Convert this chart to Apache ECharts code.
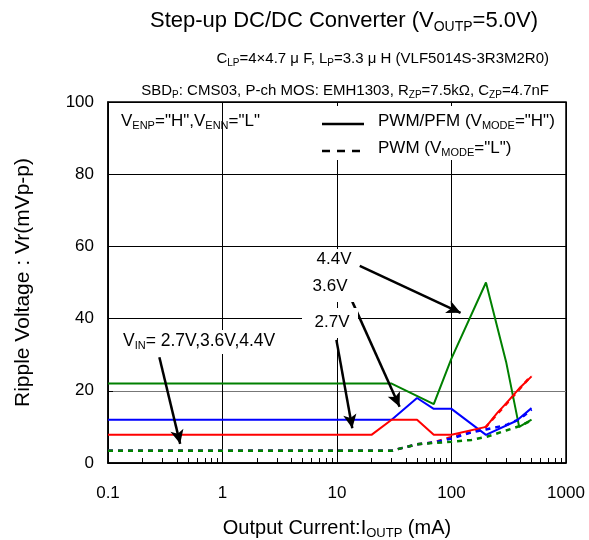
<!DOCTYPE html>
<html><head><meta charset="utf-8">
<script src="https://cdn.jsdelivr.net/npm/echarts@6/dist/echarts.min.js"></script>
<style>html,body{margin:0;padding:0;background:#fff}#c{width:589px;height:540px}</style>
</head><body><div id="c"></div>
<script>
// ---- data ----
const xMajorTicks = [0.1, 1, 10, 100, 1000];
const xMinorTicks = [0.2,0.3,0.4,0.5,0.6,0.7,0.8,0.9,2,3,4,5,6,7,8,9,20,30,40,50,60,70,80,90,200,300,400,500,600,700,800,900];
const yTicks = [0, 20, 40, 60, 80, 100];
// PWM/PFM (VMODE="H") solid
const pfm27 = [[0.1,7.8],[20,7.8],[30,12],[50,12],[70,7.8],[100,7.8],[200,10],[250,13.8],[300,16.5],[400,21],[500,24]];
const pfm36 = [[0.1,12],[30,12],[50,18],[70,15],[100,15],[200,7.8],[370,11.7],[500,15.2]];
const pfm44 = [[0.1,22],[30,22],[70,16.3],[100,29],[200,50],[300,28],[390,10],[500,12]];
// PWM (VMODE="L") dashed
const pwm27 = [[0.1,3.4],[30,3.4],[50,5.2],[70,5.7],[100,7.2],[150,8.6],[200,10],[250,13.5],[300,16.3],[400,20.8],[500,24.3]];
const pwm36 = [[0.1,3.4],[30,3.4],[50,5.2],[70,5.7],[100,6.8],[150,8.5],[200,9.3],[300,10.5],[400,12.3],[500,14.8]];
const pwm44 = [[0.1,3.4],[30,3.4],[50,5.2],[100,5.9],[150,6.4],[200,7.2],[300,9],[400,10.3],[500,11.8]];
// annotation arrows: [from, to] in data coords
const arrows = [
  [[15.8,54.6],[120,41.6]],
  [[13.6,44.7],[35.2,15.6]],
  [[9.88,34.1],[13.6,9.6]],
  [[0.281,29.3],[0.427,5.3]]
];

const FONT = 'Liberation Sans, Arial, sans-serif';
const GREEN = '#008000', BLUE = '#0000ff', RED = '#ff0000';

const chart = echarts.init(document.getElementById('c'), null, {renderer:'canvas'});

function sub(size, subSize){
  return {
    a:{fontSize:size, fontFamily:FONT, color:'#000', lineHeight:size+4},
    s:{fontSize:subSize, fontFamily:FONT, color:'#000', verticalAlign:'bottom', lineHeight:subSize-2}
  };
}

function line(name, data, color, dashed){
  return {name:name, type:'line', data:data, showSymbol:false, symbol:'none', z:dashed?3:4,
    lineStyle:{color:color, width:dashed?2.5:2, type:dashed?[5,5]:'solid'}, itemStyle:{color:color}, silent:true, animation:false};
}

const option = {
  animation:false,
  textStyle:{fontFamily:FONT},
  grid:{left:108, right:23, top:102, bottom:77, outerBoundsMode:'none', containLabel:false,
    show:true, borderColor:'#000', borderWidth:1.5, backgroundColor:'transparent'},
  xAxis:[{
    type:'log', logBase:10, min:0.1, max:1000,
    axisLine:{show:true, lineStyle:{color:'#000', width:1.5}},
    axisTick:{show:false},
    axisLabel:{fontSize:17, color:'#000', margin:22, fontFamily:FONT,
      customValues:xMajorTicks,
      formatter:function(v){ return String(+v.toPrecision(6)); }},
    splitLine:{show:true, lineStyle:{color:'#000', width:1}},
    name:'{a|Output Current:I}{s|OUTP}{a| (mA)}', nameLocation:'middle', nameGap:53,
    nameTextStyle:{rich:sub(20,13)}
  },{
    type:'log', logBase:10, min:0.1, max:1000, position:'bottom',
    axisLine:{show:false},
    axisTick:{show:true, inside:true, length:5, customValues:xMinorTicks, lineStyle:{color:'#000', width:1}},
    axisLabel:{show:false}, splitLine:{show:false}
  }],
  yAxis:{
    type:'value', min:0, max:100, interval:20,
    axisLine:{show:true, lineStyle:{color:'#000', width:1.5}},
    axisTick:{show:true, inside:true, length:5, lineStyle:{color:'#000'}},
    axisLabel:{fontSize:17, color:'#000', margin:14, fontFamily:FONT, customValues:yTicks},
    splitLine:{show:true, lineStyle:{color:['#000','#777','#000','#000','#000','#000'], width:1}},
    name:'Ripple Voltage : Vr(mVp-p)', nameLocation:'middle', nameGap:74,
    nameTextStyle:{fontSize:21, color:'#000', fontFamily:FONT}
  },
  series:[
    line('PWM 2.7V', pwm27, RED, true),
    line('PWM 3.6V', pwm36, BLUE, true),
    line('PWM 4.4V', pwm44, GREEN, true),
    line('PFM 4.4V', pfm44, GREEN, false),
    line('PFM 3.6V', pfm36, BLUE, false),
    line('PFM 2.7V', pfm27, RED, false),
    {name:'arrows', type:'line', data:[], silent:true, z:6,
      markLine:{silent:true, animation:false,
        lineStyle:{color:'#000', width:2.5, type:'solid'}, label:{show:false},
        emphasis:{disabled:true},
        data: arrows.map(a=>[{coord:a[0], symbol:'none'},{coord:a[1], symbol:'arrow', symbolSize:[10,14]}])}}
  ],
  graphic:[
    {type:'text', x:344, y:21, style:{text:'{a|Step-up DC/DC Converter (V}{s|OUTP}{a|=5.0V)}', align:'center', verticalAlign:'middle', rich:sub(22,14)}},
    {type:'text', x:549, y:59, style:{text:'{a|C}{s|LP}{a|=4×4.7 μ F, L}{s|P}{a|=3.3 μ H (VLF5014S-3R3M2R0)}', align:'right', verticalAlign:'middle', rich:sub(15,10)}},
    {type:'text', x:549, y:91, style:{text:'{a|SBD}{s|P}{a|: CMS03, P-ch MOS: EMH1303, R}{s|ZP}{a|=7.5kΩ, C}{s|ZP}{a|=4.7nF}', align:'right', verticalAlign:'middle', rich:sub(15,10)}},
    {type:'text', x:121, y:121, z:10, style:{text:'{a|V}{s|ENP}{a|="H",V}{s|ENN}{a|="L"}', align:'left', verticalAlign:'middle', rich:sub(17,11)}},
    // legend
    {type:'rect', z:9, shape:{x:316, y:106, width:246, height:54}, style:{fill:'#fff'}},
    {type:'line', z:10, shape:{x1:322, y1:124, x2:364, y2:124}, style:{stroke:'#000', lineWidth:2.5}},
    {type:'line', z:10, shape:{x1:322, y1:151, x2:364, y2:151}, style:{stroke:'#000', lineWidth:2.5, lineDash:[8,7]}},
    {type:'text', x:378, y:121, z:10, style:{text:'{a|PWM/PFM (V}{s|MODE}{a|="H")}', align:'left', verticalAlign:'middle', rich:sub(17,11)}},
    {type:'text', x:378, y:148, z:10, style:{text:'{a|PWM (V}{s|MODE}{a|="L")}', align:'left', verticalAlign:'middle', rich:sub(17,11)}},
    // annotations
    {type:'rect', z:9, shape:{x:303, y:249, width:56, height:53}, style:{fill:'#fff'}},
    {type:'rect', z:9, shape:{x:302, y:308, width:56, height:30}, style:{fill:'#fff'}},
    {type:'rect', z:9, shape:{x:114, y:330, width:172, height:24}, style:{fill:'#fff'}},
    {type:'text', x:334, y:259, z:10, style:{text:'4.4V', fontSize:17, fontFamily:FONT, fill:'#000', align:'center', verticalAlign:'middle'}},
    {type:'text', x:330, y:286, z:10, style:{text:'3.6V', fontSize:17, fontFamily:FONT, fill:'#000', align:'center', verticalAlign:'middle'}},
    {type:'text', x:332, y:322, z:10, style:{text:'2.7V', fontSize:17, fontFamily:FONT, fill:'#000', align:'center', verticalAlign:'middle'}},
    {type:'text', x:123, y:341, z:10, style:{text:'{a|V}{s|IN}{a|= 2.7V,3.6V,4.4V}', align:'left', verticalAlign:'middle', rich:sub(17.5,11)}}
  ]
};
chart.setOption(option);
</script>
</body></html>
